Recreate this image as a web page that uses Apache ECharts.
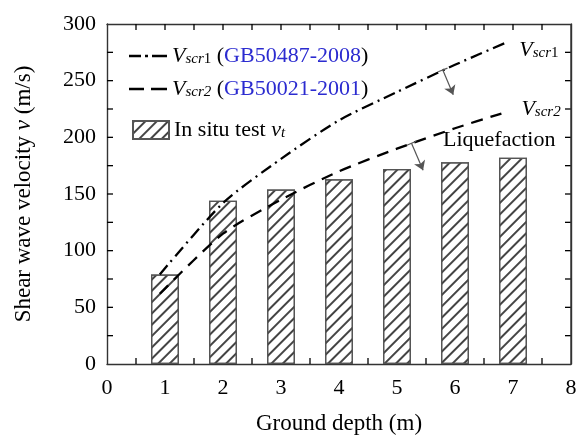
<!DOCTYPE html>
<html>
<head>
<meta charset="utf-8">
<script src="https://cdn.jsdelivr.net/npm/echarts@6/dist/echarts.min.js"></script>
<style>
  html, body { margin: 0; padding: 0; background: #fff; }
  #main { width: 576px; height: 435px; }
</style>
</head>
<body>
<div id="main"></div>
<script>
// data
var depths = [1, 2, 3, 4, 5, 6, 7];
var insituVt = [79, 144, 154, 163, 172, 178, 182];

var vscr1Depth = [0.91, 2, 3, 4, 5, 6, 6.9];
var vscr1Values = [79, 142, 181, 215, 240, 264, 284];

var vscr2Depth = [0.91, 2, 3, 4, 5, 6, 6.8];
var vscr2Values = [62, 115, 145, 170, 190, 208, 221];

// axis ranges and tick positions (ticks point inwards on all four sides)
var xMin = 0, xMax = 8, yMin = 0, yMax = 300;
var xTickPos = [0.5, 1, 1.5, 2, 2.5, 3, 3.5, 4, 4.5, 5, 5.5, 6, 6.5, 7, 7.5];
var yTickPos = [25, 50, 75, 100, 125, 150, 175, 200, 225, 250, 275];

// arrows (data units): start, end, small bar across the start
var arrowStart = [[5.79, 259.5], [5.25, 194.8]];
var arrowEnd = [[5.97, 237.5], [5.45, 171]];
var barA = [[5.71, 257.9], [5.17, 193]];
var barB = [[5.87, 261.1], [5.33, 196.6]];

var FONT = 'Liberation Serif';
var BLUE = '#2b2bd0';

function pairs(xs, ys) {
    return xs.map(function (x, i) { return [x, ys[i]]; });
}

var arrowLines = [];
for (var i = 0; i < arrowStart.length; i++) {
    arrowLines.push([{ coord: arrowStart[i], symbol: 'none' }, { coord: arrowEnd[i], symbol: 'arrow' }]);
    arrowLines.push([{ coord: barA[i], symbol: 'none' }, { coord: barB[i], symbol: 'none' }]);
}

// frame pieces: 0 = x tick, 1 = y tick, 2 = right border
var frameData = [];
xTickPos.forEach(function (p) { frameData.push([0, p]); });
yTickPos.forEach(function (p) { frameData.push([1, p]); });
frameData.push([2, 0]);

var rich = {
    v: { fontFamily: FONT, fontStyle: 'italic', fontSize: 22, color: '#000' },
    s: { fontFamily: FONT, fontStyle: 'italic', fontSize: 15, color: '#000', padding: [6, 0, 0, 0] },
    n: { fontFamily: FONT, fontSize: 15, color: '#000', padding: [6, 0, 0, 0] },
    t: { fontFamily: FONT, fontSize: 22, color: '#000' },
    b: { fontFamily: FONT, fontSize: 22, color: BLUE }
};

var legendText = {
    'Vscr1': '{v|V}{s|scr}{n|1}{t| (}{b|GB50487-2008}{t|)}',
    'Vscr2': '{v|V}{s|scr2}{t| (}{b|GB50021-2001}{t|)}',
    'In situ test': '{t|In situ test }{v|v}{s|t}'
};

// dash-dot and dashed legend samples
var iconDashDot = 'path://M0,0h12v2.4h-12z M16,0h3v2.4h-3z M23,0h15v2.4h-15z';
var iconDashed = 'path://M0,0h15v2.4h-15z M22,0h16v2.4h-16z';

function lineOpt() {
    return { show: true, onZero: false, lineStyle: { color: '#333', width: 1.4 } };
}

function renderFrame(params, api) {
    var kind = api.value(0);
    var pos = api.value(1);
    var st = { stroke: '#000', lineWidth: 1.3 };
    var L = 6;
    if (kind === 0) {
        var b = api.coord([pos, yMin]);
        var t = api.coord([pos, yMax]);
        return {
            type: 'group', children: [
                { type: 'line', shape: { x1: b[0], y1: b[1], x2: b[0], y2: b[1] - L }, style: st },
                { type: 'line', shape: { x1: t[0], y1: t[1], x2: t[0], y2: t[1] + L }, style: st }
            ]
        };
    }
    if (kind === 1) {
        var l = api.coord([xMin, pos]);
        var r = api.coord([xMax, pos]);
        return {
            type: 'group', children: [
                { type: 'line', shape: { x1: l[0], y1: l[1], x2: l[0] + L, y2: l[1] }, style: st },
                { type: 'line', shape: { x1: r[0], y1: r[1], x2: r[0] - L, y2: r[1] }, style: st }
            ]
        };
    }
    var p0 = api.coord([xMax, yMin]);
    var p1 = api.coord([xMax, yMax]);
    return {
        type: 'line', shape: { x1: p0[0], y1: p0[1], x2: p1[0], y2: p1[1] },
        style: { stroke: '#333', lineWidth: 1.4 }
    };
}

var myChart = echarts.init(document.getElementById('main'));

myChart.setOption({
    animation: false,
    grid: { left: 107, right: 5, top: 24, bottom: 71, outerBoundsMode: 'none' },
    legend: [
        {
            data: [{ name: 'Vscr1', icon: iconDashDot }], left: 124, top: 40,
            itemWidth: 38, itemHeight: 2.4, itemStyle: { color: '#000' },
            formatter: function (n) { return legendText[n]; },
            textStyle: { rich: rich }
        },
        {
            data: [{ name: 'Vscr2', icon: iconDashed }], left: 124, top: 73,
            itemWidth: 38, itemHeight: 2.4, itemStyle: { color: '#000' },
            formatter: function (n) { return legendText[n]; },
            textStyle: { rich: rich }
        },
        {
            data: [{ name: 'In situ test', icon: 'rect' }], left: 127, top: 114,
            itemWidth: 36, itemHeight: 18,
            formatter: function (n) { return legendText[n]; },
            textStyle: { rich: rich }
        }
    ],
    xAxis: [
        {
            type: 'value', min: xMin, max: xMax, interval: 1, position: 'bottom',
            name: 'Ground depth (m)', nameLocation: 'middle', nameGap: 48,
            nameTextStyle: { fontFamily: FONT, fontSize: 23, color: '#000' },
            axisLine: lineOpt(), axisTick: { show: false }, minorTick: { show: false },
            splitLine: { show: false },
            axisLabel: { margin: 13, fontFamily: FONT, fontSize: 22, color: '#000' }
        },
        {
            type: 'value', min: xMin, max: xMax, interval: 1, position: 'top',
            axisLine: lineOpt(), axisTick: { show: false }, minorTick: { show: false },
            splitLine: { show: false }, axisLabel: { show: false }
        }
    ],
    yAxis: [
        {
            type: 'value', min: yMin, max: yMax, interval: 50, position: 'left',
            name: 'Shear wave velocity {i|v} (m/s)', nameLocation: 'middle', nameGap: 72,
            nameTextStyle: {
                fontFamily: FONT, fontSize: 23, color: '#000',
                rich: { i: { fontFamily: FONT, fontStyle: 'italic', fontSize: 23, color: '#000' } }
            },
            axisLine: lineOpt(), axisTick: { show: false }, minorTick: { show: false },
            splitLine: { show: false },
            axisLabel: { margin: 11, fontFamily: FONT, fontSize: 22, color: '#000' }
        },
        {
            type: 'value', min: yMin, max: yMax, interval: 50, position: 'right',
            axisLine: lineOpt(), axisTick: { show: false }, minorTick: { show: false },
            splitLine: { show: false }, axisLabel: { show: false }
        }
    ],
    series: [
        {
            // inward ticks on all four sides and the right border
            name: 'frame',
            type: 'custom',
            z: 1,
            silent: true,
            clip: false,
            renderItem: renderFrame,
            data: frameData
        },
        {
            name: 'In situ test',
            type: 'bar',
            barWidth: 28,
            data: pairs(depths, insituVt),
            itemStyle: {
                color: '#fff',
                borderColor: '#555',
                borderWidth: 1.3,
                decal: {
                    symbol: 'rect',
                    symbolSize: 1,
                    dashArrayX: [1, 0],
                    dashArrayY: [1.2, 5.4],
                    rotation: -Math.PI / 4,
                    color: '#444'
                }
            }
        },
        {
            name: 'Vscr1',
            type: 'line',
            smooth: 0.25,
            symbol: 'none',
            data: pairs(vscr1Depth, vscr1Values),
            lineStyle: { color: '#000', width: 2.3, type: [12, 5, 2, 5] },
            itemStyle: { color: '#000' },
            endLabel: {
                show: true, offset: [4, 8],
                formatter: '{v|V}{s|scr}{n|1}', rich: rich
            },
            markLine: {
                silent: true,
                symbolSize: 9,
                label: { show: false },
                lineStyle: { color: '#555', width: 1.2, type: 'solid' },
                data: arrowLines
            }
        },
        {
            name: 'Vscr2',
            type: 'line',
            smooth: 0.25,
            symbol: 'none',
            data: pairs(vscr2Depth, vscr2Values),
            lineStyle: { color: '#000', width: 2.3, type: [12, 8] },
            itemStyle: { color: '#000' },
            endLabel: {
                show: true, offset: [12, -4],
                formatter: '{v|V}{s|scr2}', rich: rich
            }
        }
    ],
    graphic: [
        {
            type: 'text', left: 443, top: 129,
            style: { text: 'Liquefaction', font: '22px "Liberation Serif"', fill: '#000' }
        }
    ]
});
</script>
</body>
</html>
